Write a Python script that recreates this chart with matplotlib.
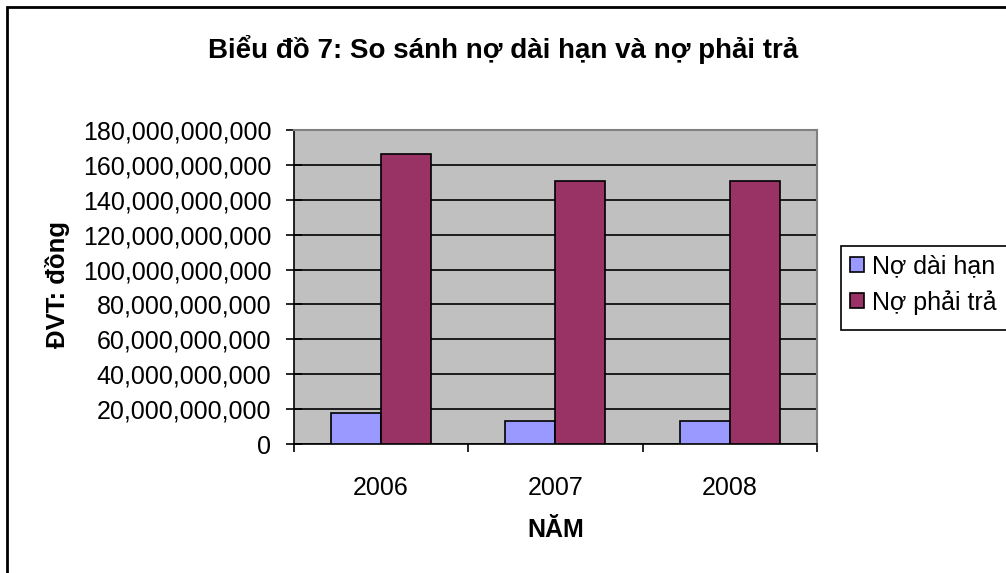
import numpy as np
import matplotlib.pyplot as plt
from matplotlib.patches import Rectangle
from matplotlib.ticker import FuncFormatter

plt.rcParams['font.family'] = ['Liberation Sans', 'DejaVu Sans']

# data (VND)
years = ['2006', '2007', '2008']
no_dai_han = [18.0e9, 13.4e9, 13.4e9]
no_phai_tra = [166.2e9, 151.0e9, 151.0e9]
series_names = ['Nợ dài hạn', 'Nợ phải trả']
yticks = np.arange(0, 180e9 + 1, 20e9)

W, H = 1006, 573
fig = plt.figure(figsize=(W / 100, H / 100), dpi=100)
fig.patch.set_facecolor('white')

# outer chart frame (right and bottom edges fall outside the picture)
fig.add_artist(Rectangle((7 / W, -0.1), 1.2, 1.1 - 7 / H,
                         transform=fig.transFigure, fill=False,
                         edgecolor='black', linewidth=2))

ax = fig.add_axes([293.5 / W, 1 - 444 / H, (817 - 293.5) / W, (444 - 130) / H])
ax.set_facecolor('#C0C0C0')

x = np.arange(len(years))
bw = 1 / 3.5
ax.bar(x - bw / 2, no_dai_han, bw, color='#9999FF', edgecolor='black',
       linewidth=1.2, label=series_names[0], zorder=3)
ax.bar(x + bw / 2, no_phai_tra, bw, color='#993366', edgecolor='black',
       linewidth=1.2, label=series_names[1], zorder=3)

ax.set_xlim(-0.5, len(years) - 0.5)
ax.set_ylim(0, 180e9)
ax.set_yticks(yticks)
ax.yaxis.set_major_formatter(FuncFormatter(lambda v, p: f"{int(v):,}"))
ax.grid(axis='y', color='black', linewidth=1.2, zorder=1)
ax.set_axisbelow(True)

# x ticks at category boundaries, labels in the middle
ax.set_xticks(np.arange(-0.5, len(years), 1.0))
ax.set_xticklabels([])
ax.set_xticks(x, minor=True)
ax.set_xticklabels(years, minor=True)
ax.tick_params(axis='x', which='major', direction='out', length=6, width=1.2)
ax.tick_params(axis='x', which='minor', length=0, pad=23, labelsize=18)
ax.tick_params(axis='y', direction='inout', length=12, width=1.2, labelsize=18, pad=10)

for s in ['top', 'right']:
    ax.spines[s].set_color('#808080')
    ax.spines[s].set_linewidth(1.5)
for s in ['left', 'bottom']:
    ax.spines[s].set_color('black')
    ax.spines[s].set_linewidth(1.2)

fig.text(503 / W, 1 - 49 / H, 'Biểu đồ 7: So sánh nợ dài hạn và nợ phải trả',
         ha='center', va='center', fontsize=20, fontweight='bold')
fig.text(57 / W, 1 - 285 / H, 'ĐVT: đồng', ha='center', va='center',
         rotation=90, fontsize=18.5, fontweight='bold')
fig.text(556 / W, 1 - 530 / H, 'NĂM', ha='center', va='center',
         fontsize=18, fontweight='bold')

# legend box runs off the right edge in the reference, so draw its frame by hand
fig.add_artist(Rectangle((841 / W, 1 - 330 / H), 0.3, (330 - 246) / H,
                         transform=fig.transFigure, fill=True, facecolor='white',
                         edgecolor='black', linewidth=1.2, zorder=4))
leg = fig.legend(loc='upper left', bbox_to_anchor=(841 / W, 1 - 246 / H),
                 fontsize=18, frameon=False,
                 handlelength=0.55, handleheight=0.55, handletextpad=0.35,
                 borderpad=0.35, labelspacing=0.45, borderaxespad=0)
leg.set_zorder(5)

fig.savefig('out.png', dpi=100)
